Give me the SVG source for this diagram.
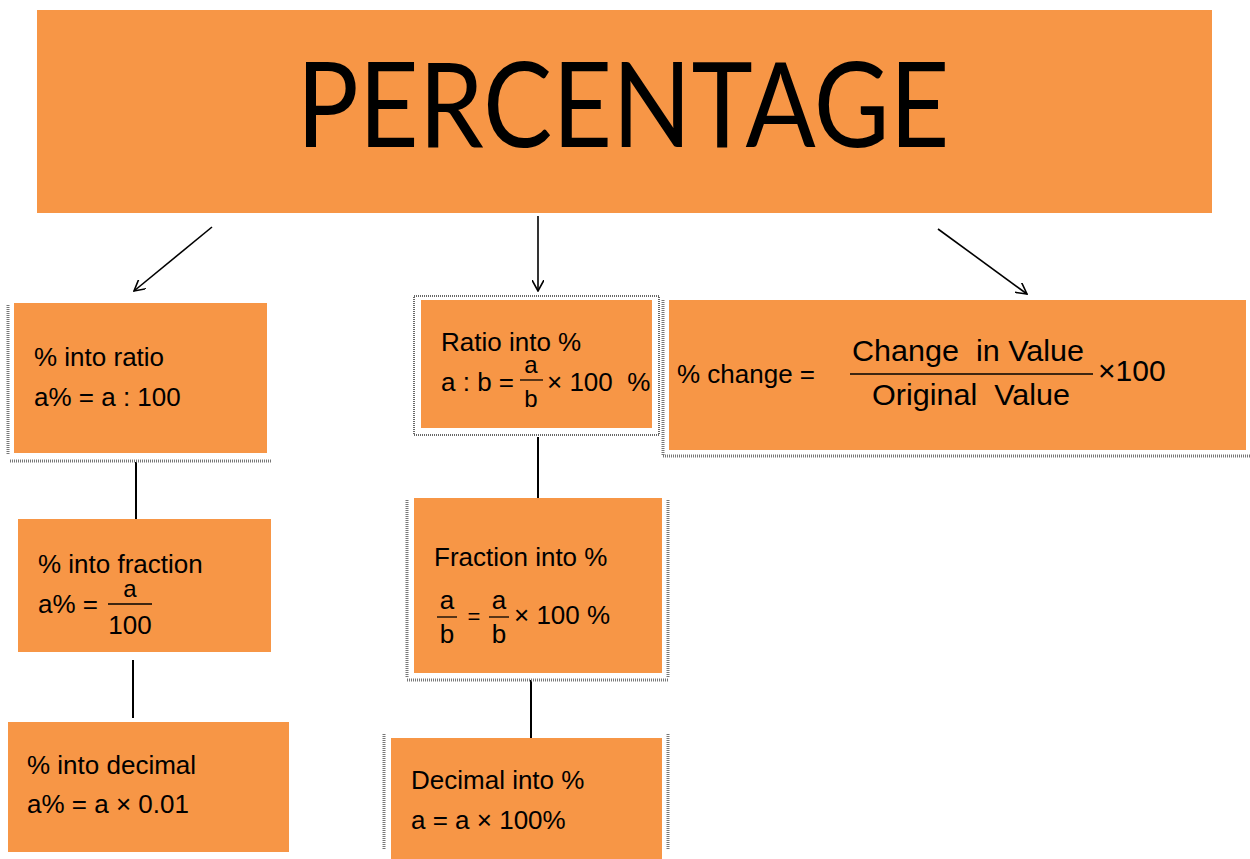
<svg xmlns="http://www.w3.org/2000/svg" width="1250" height="859" viewBox="0 0 1250 859">
<defs>
<style>
.box{fill:#F79646;}
.t{font-family:"Liberation Sans",Arial,sans-serif;font-size:26px;fill:#000;white-space:pre;}
.fr{font-family:"Liberation Sans",Arial,sans-serif;font-size:24px;fill:#000;}
.big{font-family:"Liberation Sans",Arial,sans-serif;font-size:30px;fill:#000;white-space:pre;}
.title{font-family:Lato,"Open Sans",sans-serif;font-size:118px;fill:#000;}
.conn{stroke:#000;stroke-width:2;fill:none;}
.arr{stroke:#000;stroke-width:1.6;fill:none;}
.dot{stroke:#777;stroke-width:3;stroke-dasharray:1 1;fill:none;}
.fl{stroke:#000;stroke-width:1.3;}
</style>
<marker id="ah" viewBox="0 0 12 12" refX="11" refY="6" markerWidth="12" markerHeight="12" markerUnits="userSpaceOnUse" orient="auto">
<path d="M0,0 L11,6 L0,12" fill="none" stroke="#000" stroke-width="1.6"/>
</marker>
</defs>
<rect width="1250" height="859" fill="#fff"/>

<g id="title">
<rect class="box" x="37" y="10" width="1175" height="203"/>
<text class="title" x="623" y="147" text-anchor="middle" textLength="653" lengthAdjust="spacingAndGlyphs">PERCENTAGE</text>
</g>

<g id="connectors">
<line class="arr" x1="212" y1="227" x2="134" y2="291" marker-end="url(#ah)"/>
<line class="arr" x1="538" y1="216" x2="538" y2="291" marker-end="url(#ah)"/>
<line class="arr" x1="938" y1="229" x2="1027" y2="294" marker-end="url(#ah)"/>
<line class="conn" x1="136" y1="462" x2="136" y2="519"/>
<line class="conn" x1="133" y1="660" x2="133" y2="718"/>
<line class="conn" x1="538" y1="437" x2="538" y2="498"/>
<line class="conn" x1="531" y1="680" x2="531" y2="738"/>
</g>

<g id="n-ratio">
<line class="dot" x1="8" y1="305" x2="8" y2="455" stroke-width="1"/>
<line class="dot" x1="10" y1="461" x2="272" y2="461" stroke-width="2"/>
<rect class="box" x="14" y="303" width="253" height="150"/>
<text class="t" x="34" y="366">% into ratio</text>
<text class="t" x="34" y="406">a% = a : 100</text>
</g>

<g id="n-fraction">
<rect class="box" x="18" y="519" width="253" height="133"/>
<text class="t" x="38" y="573">% into fraction</text>
<text class="t" x="38" y="613">a% =</text>
<text class="fr" x="130" y="597" text-anchor="middle">a</text>
<line class="fl" x1="108" y1="604" x2="152" y2="604"/>
<text class="t" x="130" y="634" text-anchor="middle">100</text>
</g>

<g id="n-decimal">
<rect class="box" x="8" y="722" width="281" height="130"/>
<text class="t" x="27" y="774">% into decimal</text>
<text class="t" x="27" y="813">a% = a × 0.01</text>
</g>

<g id="n-ratio-pct">
<rect x="414" y="296" width="245" height="139" fill="#fff" stroke="#666" stroke-width="2" stroke-dasharray="1 1"/>
<rect class="box" x="421" y="300" width="231" height="128"/>
<text class="t" x="441" y="351">Ratio into %</text>
<text class="t" x="441" y="391">a : b =</text>
<text class="fr" x="531" y="373" text-anchor="middle">a</text>
<line class="fl" x1="520" y1="380" x2="543" y2="380"/>
<text class="fr" x="531" y="407" text-anchor="middle">b</text>
<text class="t" x="547" y="391">× 100  %</text>
</g>

<g id="n-fraction-pct">
<line class="dot" x1="407" y1="500" x2="407" y2="678"/>
<line class="dot" x1="668" y1="500" x2="668" y2="678"/>
<line class="dot" x1="407" y1="680" x2="668" y2="680"/>
<rect class="box" x="414" y="498" width="248" height="175"/>
<text class="t" x="434" y="566">Fraction into %</text>
<text class="t" x="447" y="609" text-anchor="middle">a</text>
<line class="fl" x1="437" y1="617" x2="457" y2="617"/>
<text class="t" x="447" y="643" text-anchor="middle">b</text>
<text class="t" x="474" y="624" text-anchor="middle" style="font-size:22px">=</text>
<text class="t" x="499" y="609" text-anchor="middle">a</text>
<line class="fl" x1="489" y1="617" x2="509" y2="617"/>
<text class="t" x="499" y="643" text-anchor="middle">b</text>
<text class="t" x="514" y="624">× 100 %</text>
</g>

<g id="n-decimal-pct">
<line class="dot" x1="384" y1="734" x2="384" y2="850" stroke-width="2"/>
<line class="dot" x1="668" y1="734" x2="668" y2="850" stroke-width="2"/>
<rect class="box" x="391" y="738" width="271" height="121"/>
<text class="t" x="411" y="789">Decimal into %</text>
<text class="t" x="411" y="829">a = a × 100%</text>
</g>

<g id="n-change">
<line class="dot" x1="663" y1="300" x2="663" y2="456"/>
<line class="dot" x1="663" y1="456" x2="1250" y2="456"/>
<rect class="box" x="669" y="300" width="577" height="150"/>
<text class="t" x="677" y="383">% change =</text>
<text class="big" x="852" y="361" textLength="232" lengthAdjust="spacingAndGlyphs">Change  in Value</text>
<line class="fl" x1="850" y1="374" x2="1093" y2="374"/>
<text class="big" x="872" y="405" textLength="198" lengthAdjust="spacingAndGlyphs">Original  Value</text>
<text class="big" x="1098" y="381">×100</text>
</g>
</svg>
